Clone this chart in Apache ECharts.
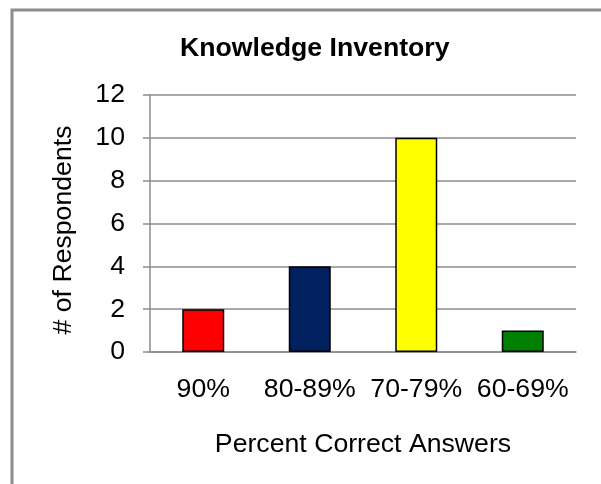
<!DOCTYPE html>
<html lang="en">
<head>
  <meta charset="UTF-8">
  <title>Knowledge Inventory</title>
  <style>
    html, body { margin: 0; padding: 0; background: #fff; }
    #main { width: 601px; height: 484px; }
  </style>
</head>
<body>
  <div id="main"></div>
  <script src="https://cdn.jsdelivr.net/npm/echarts@6/dist/echarts.min.js"></script>
  <script>
    var categories = ['90%', '80-89%', '70-79%', '60-69%'];
    var respondents = [2, 4, 10, 1];
    var barColors = ['#ff0000', '#002060', '#ffff00', '#008000'];
    var yTicks = { min: 0, max: 12, interval: 2 };

    var font = 'Liberation Sans, Arial, sans-serif';
    var gray = '#8c8c8c';
    var fs = 26.67; // 20pt

    var myChart = echarts.init(document.getElementById('main'));

    var option = {
      animation: false,
      backgroundColor: '#fff',
      title: {
        text: 'Knowledge Inventory',
        left: 175,
        top: 30,
        textStyle: { fontFamily: font, fontSize: fs, fontWeight: 'bold', color: '#000' }
      },
      graphic: [{
        type: 'rect',
        shape: { x: 12, y: 10, width: 800, height: 800 },
        style: { fill: 'none', stroke: gray, lineWidth: 3 },
        silent: true
      }],
      grid: { left: 150, right: 25, top: 95, bottom: 132 },
      xAxis: {
        type: 'category',
        data: categories,
        name: 'Percent Correct Answers',
        nameLocation: 'middle',
        nameGap: 79,
        nameTextStyle: { fontFamily: font, fontSize: fs, color: '#000' },
        axisLine: { lineStyle: { color: gray, width: 1.5 } },
        axisTick: { length: 7, lineStyle: { color: gray, width: 1.5 } },
        axisLabel: { interval: 0, margin: 24, fontFamily: font, fontSize: fs, color: '#000' }
      },
      yAxis: {
        type: 'value',
        min: yTicks.min,
        max: yTicks.max,
        interval: yTicks.interval,
        name: '# of Respondents',
        nameLocation: 'middle',
        nameGap: 73,
        nameTextStyle: { fontFamily: font, fontSize: fs, color: '#000', padding: [0, 13, 0, 0] },
        axisLine: { show: true, lineStyle: { color: gray, width: 1.5 } },
        axisTick: { show: true, length: 7, lineStyle: { color: gray, width: 1.5 } },
        axisLabel: { margin: 25, fontFamily: font, fontSize: fs, color: '#000' },
        splitLine: { lineStyle: { color: gray, width: 1.5 } }
      },
      series: [{
        type: 'bar',
        barWidth: 42,
        data: respondents.map(function (v, i) {
          return { value: v, itemStyle: { color: barColors[i] } };
        }),
        itemStyle: { borderColor: '#000', borderWidth: 1.5 }
      }]
    };

    myChart.setOption(option);
  </script>
</body>
</html>
